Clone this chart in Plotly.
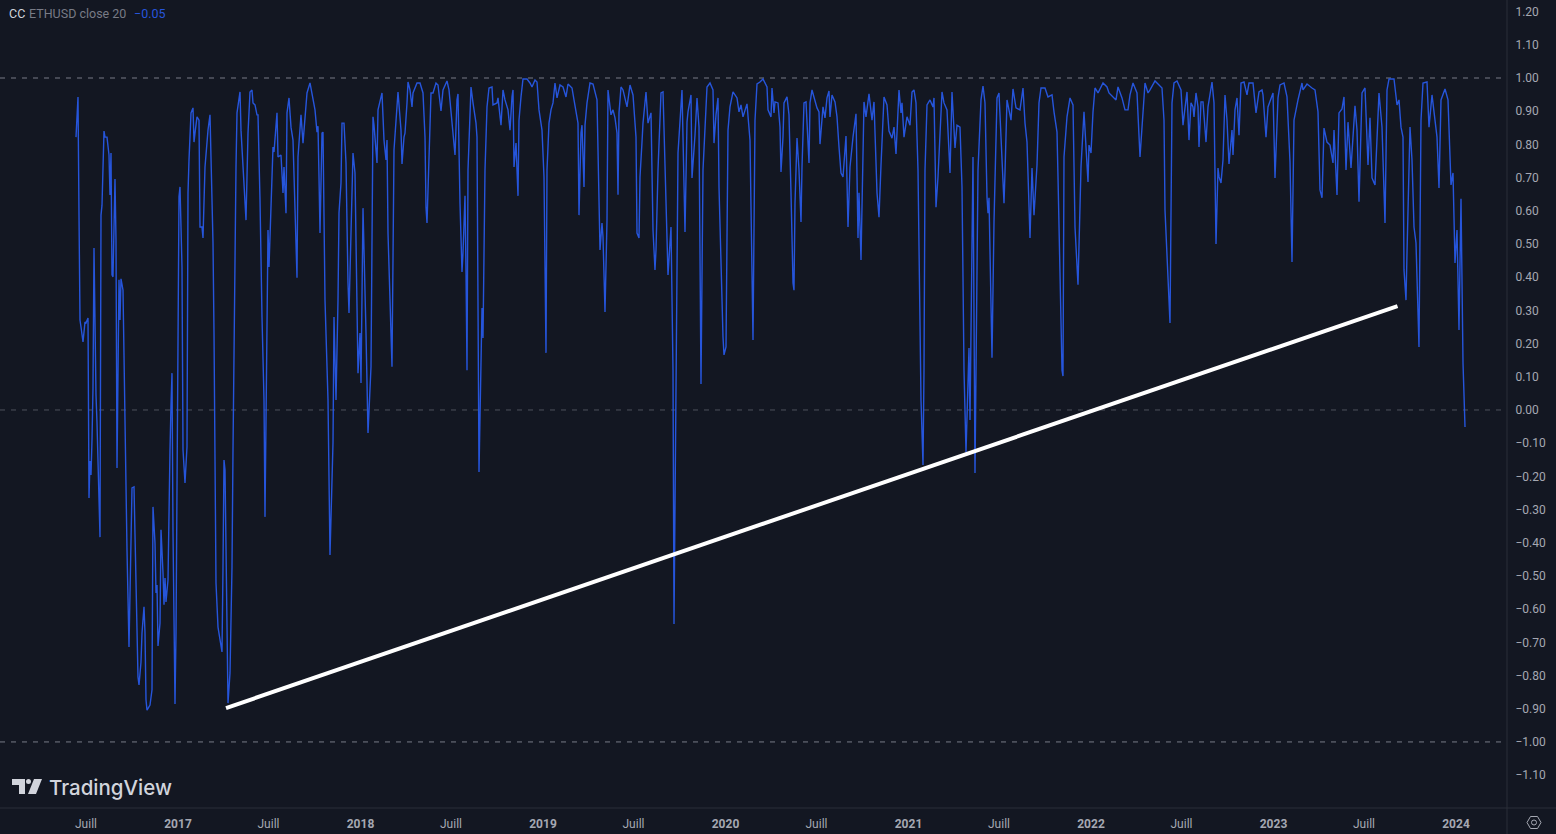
import pandas as pd
import plotly.graph_objects as go

# (days since first bar, correlation value)
first_bar = "2016-06-11"

cc_2016 = [(0,.822),(4,.943),(6,.587),(8,.271),(10,.25),(14,.205),(18,.265),(20,.262),(24,.277),(26,-.265),
    (28,-.154),(30,-.196),(32,-.09),(34,.066),(36,.488),(38,.151),(40,.045),(42,-.039),(48,-.383),(50,.587),
    (52,.617),(56,.84),(58,.822),(62,.822),(66,.768),(68,.648),(70,.774),(72,.407),(74,.401),(78,.696),
    (80,.512),(82,-.175),(84,.271),(86,.392),(88,.271),(90,.395),(94,.361),(98,-.069),(102,-.422),(106,-.714),
    (108,-.578),(112,-.235),(116,-.232),(118,-.37),(120,-.521),(122,-.744),(124,-.804),(126,-.828),(130,-.759),
    (132,-.672),(136,-.593),(138,-.672),(140,-.873),(142,-.904),(148,-.889),(152,-.843),(154,-.292),(158,-.401),
    (160,-.551),(162,-.527),(164,-.711),(168,-.642),(170,-.361),(174,-.491),(176,-.587),(178,-.506),(180,-.578),
    (184,-.512),(186,-.271),(188,-.12),(190,.015),(192,.111),(194,-.37),(198,-.886),(200,-.672),(202,-.271)]

cc_2017 = [(204,.03),(206,.642),(208,.672),(212,.431),(214,-.12),(218,-.22),(222,-.111),(224,.654),(226,.753),
    (230,.895),(234,.91),(236,.807),(238,.834),(242,.883),(246,.873),(248,.551),(252,.551),(254,.518),(258,.732),
    (262,.813),(264,.843),(268,.889),(270,.753),(274,.503),(276,.232),(278,-.28),(280,-.521),(284,-.654),(288,-.699),
    (292,-.729),(294,-.473),(296,-.151),(298,-.18),(302,-.672),(304,-.883),(308,-.792),(312,-.473),(314,-.12),
    (316,.232),(318,.461),(320,.732),(322,.895),(328,.958),(330,.843),(334,.732),(340,.572),(344,.834),(348,.958),
    (352,.964),(354,.925),(358,.919),(362,.889),(364,.889),(368,.633),(372,.28),(376,.03),(378,-.322),(380,.03),
    (382,.361),(384,.542),(386,.431),(392,.732),(394,.792),(396,.777),(402,.895),(404,.762),(410,.768),(414,.654),
    (416,.732),(420,.593),(422,.895),(426,.94),(430,.852),(434,.813),(438,.581),(442,.398),(444,.762),(448,.864),
    (450,.889),(454,.804),(458,.895),(462,.955),(468,.985),(474,.934),(478,.904),(482,.837),(484,.855),(486,.702),
    (488,.533),(492,.834),(494,.837),(498,.331),(502,.13),(504,.03),(508,-.437),(514,-.099),(516,.28),(520,.03),
    (524,.331),(526,.593),(530,.684),(532,.864),(536,.864),(540,.744),(544,.383),(546,.292),(550,.533),(554,.774),
    (558,.714),(562,.271),(564,.111),(568,.232)]

cc_2018 = [(570,.081),(574,.608),(576,.443),(580,.232),(584,-.069),(590,.13),(594,.883),(596,.858),(602,.744),
    (604,.904),(612,.955),(616,.813),(620,.753),(622,.813),(624,.533),(630,.271),(632,.13),(636,.783),(640,.864),
    (644,.958),(650,.843),(652,.741),(656,.822),(658,.834),(662,.925),(664,.988),(668,.964),(672,.913),(674,.955),
    (682,.985),(688,.985),(694,.955),(698,.822),(700,.611),(702,.563),(706,.753),(710,.955),(714,.955),(720,.985),
    (724,.979),(730,.901),(734,.964),(742,.991),(746,.964),(752,.852),(758,.768),(762,.934),(764,.952),(768,.623),
    (772,.416),(774,.473),(778,.645),(780,.422),(782,.12),(784,.723),(790,.973),(794,.925),(800,.864),(802,.822),
    (804,.422),(806,-.187),(812,.307),(814,.217),(818,.723),(822,.913),(826,.97),(832,.973),(834,.919),(842,.925),
    (844,.94),(850,.858),(854,.964),(858,.934),(864,.904),(868,.843),(872,.943),(874,.964),(876,.732),(880,.804),
    (884,.645),(886,.873),(890,.943),(894,.997),(902,.997),(908,.985),(912,.973),(918,.994),(922,.988),(926,.904),
    (932,.843)]

cc_2019 = [(936,.702),(940,.172),(942,.723),(946,.864),(950,.904),(954,.925),(958,.985),(962,.94),(968,.979),
    (974,.973),(980,.943),(984,.982),(992,.97),(996,.934),(1000,.895),(1004,.864),(1006,.587),(1010,.834),(1012,.858),
    (1016,.672),(1018,.858),(1022,.925),(1028,.985),(1034,.982),(1042,.934),(1044,.774),(1048,.482),(1052,.563),
    (1054,.521),(1058,.295),(1062,.572),(1064,.964),(1070,.889),(1074,.904),(1078,.88),(1082,.834),(1084,.648),
    (1086,.895),(1090,.973),(1094,.964),(1098,.94),(1102,.913),(1108,.979),(1114,.949),(1120,.822),(1122,.533),
    (1126,.518),(1128,.702),(1132,.807),(1134,.864),(1140,.958),(1144,.864),(1150,.895),(1154,.542),(1158,.422),
    (1160,.482),(1164,.723),(1170,.955),(1174,.958),(1178,.723),(1184,.407),(1190,.551),(1194,.12),(1196,-.645),
    (1200,.12),(1204,.774),(1212,.964),(1214,.822),(1218,.536),(1222,.867),(1224,.898),(1230,.949),(1232,.699),
    (1238,.828),(1242,.94),(1246,.852),(1250,.078),(1254,.723),(1262,.973),(1268,.985),(1274,.964),(1276,.804),
    (1280,.889),(1284,.94),(1286,.672),(1294,.22)]

cc_2020 = [(1296,.166),(1300,.19),(1304,.843),(1308,.913),(1314,.958),(1322,.94),(1326,.898),(1330,.919),(1334,.883),
    (1342,.922),(1346,.852),(1348,.813),(1354,.211),(1358,.873),(1362,.982),(1368,.988),(1374,.997),(1382,.973),
    (1384,.904),(1390,.883),(1392,.97),(1396,.895),(1398,.928),(1404,.925),(1408,.852),(1410,.717),(1414,.822),
    (1416,.925),(1422,.943),(1426,.889),(1430,.654),(1434,.383),(1436,.361),(1438,.623),(1442,.819),(1446,.723),
    (1450,.566),(1452,.732),(1456,.925),(1460,.928),(1466,.744),(1468,.925),(1472,.964),(1476,.94),(1482,.91),
    (1486,.898),(1488,.801),(1494,.913),(1498,.88),(1502,.94),(1506,.961),(1508,.883),(1512,.949),(1518,.928),
    (1522,.883),(1526,.792),(1530,.714),(1534,.702),(1540,.825),(1544,.551),(1548,.732),(1554,.822),(1560,.892),
    (1564,.518),(1566,.654),(1570,.452),(1574,.873),(1576,.928),(1580,.883),(1586,.952),(1592,.873),(1596,.928),
    (1602,.654),(1606,.581),(1610,.738),(1616,.943),(1622,.919),(1626,.84),(1632,.819),(1636,.852),(1640,.771),
    (1646,.964),(1650,.895),(1652,.925),(1656,.822),(1662,.883)]

cc_2021 = [(1668,.858),(1672,.958),(1676,.964),(1680,.925),(1684,.723),(1690,.03),(1694,-.166),(1696,.12),(1698,.723),
    (1702,.919),(1708,.934),(1714,.913),(1716,.94),(1720,.611),(1724,.702),(1732,.958),(1736,.925),(1742,.904),
    (1748,.714),(1752,.958),(1758,.789),(1762,.858),(1768,.852),(1772,.672),(1776,.12),(1780,-.127),(1786,.187),
    (1788,-.03),(1794,.762),(1798,-.19),(1804,.723),(1810,.934),(1814,.976),(1818,.925),(1822,.642),(1824,.593),
    (1826,.639),(1832,.157),(1836,.566),(1842,.94),(1846,.955),(1850,.804),(1854,.708),(1856,.623),(1858,.717),
    (1862,.934),(1870,.873),(1874,.967),(1880,.91),(1888,.904),(1894,.97),(1898,.864),(1902,.807),(1908,.518),
    (1912,.729),(1916,.587),(1922,.738),(1926,.925),(1930,.97),(1938,.97),(1944,.943),(1952,.949),(1956,.898),
    (1962,.837),(1964,.702),(1972,.12),(1974,.102),(1976,.762),(1982,.883),(1988,.94),(1994,.919),(1998,.551),
    (2004,.377),(2010,.732),(2016,.898),(2020,.783),(2024,.687),(2026,.798)]

cc_2022 = [(2030,.774),(2034,.898),(2038,.97),(2044,.955),(2054,.985),(2062,.973),(2066,.955),(2080,.934),(2084,.973),
    (2092,.94),(2098,.904),(2104,.904),(2108,.949),(2114,.985),(2122,.955),(2128,.762),(2138,.985),(2144,.955),
    (2148,.964),(2158,.991),(2172,.97),(2176,.873),(2178,.602),(2188,.262),(2192,.925),(2196,.985),(2202,.991),
    (2210,.964),(2212,.883),(2214,.858),(2218,.91),(2222,.958),(2226,.813),(2230,.925),(2234,.913),(2236,.883),
    (2240,.955),(2244,.913),(2246,.792),(2250,.928),(2254,.928),(2260,.807),(2264,.913),(2272,.988),(2276,.925),
    (2280,.5),(2284,.729),(2286,.702),(2290,.684),(2294,.753),(2298,.949),(2302,.873),(2306,.741),(2312,.843),
    (2314,.768),(2318,.904),(2322,.94),(2326,.828),(2330,.985),(2336,.988),(2342,.949),(2346,.985),(2354,.985),
    (2360,.895),(2366,.958),(2372,.964),(2374,.949),(2380,.822),(2384,.913),(2394,.955)]

cc_2023 = [(2398,.699),(2404,.94),(2408,.979),(2416,.985),(2422,.943),(2428,.747),(2432,.446),(2436,.873),(2444,.934),
    (2452,.985),(2454,.964),(2462,.982),(2472,.97),(2478,.964),(2484,.898),(2488,.663),(2492,.639),(2496,.849),
    (2502,.807),(2508,.798),(2514,.744),(2516,.843),(2522,.648),(2526,.895),(2532,.907),(2536,.943),(2540,.723),
    (2544,.867),(2550,.729),(2558,.916),(2562,.843),(2566,.627),(2572,.955),(2578,.97),(2584,.738),(2588,.88),
    (2592,.699),(2598,.678),(2606,.955),(2612,.852),(2618,.563),(2622,.964),(2626,.997),(2636,.997),(2642,.919),
    (2646,.934),(2650,.852),(2654,.822),(2656,.422),(2660,.331),(2662,.473),(2668,.852),(2672,.753),(2676,.551),
    (2680,.503),(2686,.19),(2690,.873),(2694,.985),(2702,.988),(2706,.852),(2712,.949),(2718,.867),(2722,.822),
    (2726,.669),(2730,.934),(2738,.967),(2744,.934),(2750,.678),(2754,.714),(2758,.443),(2762,.542),(2766,.241),
    (2770,.636),(2774,.142),(2778,-.051)]

trend_dates = ["2017-04-07", "2023-09-06"]
trend_values = [-.898, .313]

band_levels = [1, 0, -1]
band_colors = ["#787b86", "#4e515c", "#787b86"]

x_tick_dates = ["2016-07-01", "2017-01-01", "2017-07-01", "2018-01-01", "2018-07-01", "2019-01-01", "2019-07-01",
    "2020-01-01", "2020-07-01", "2021-01-01", "2021-07-01", "2022-01-01", "2022-07-01", "2023-01-01", "2023-07-01",
    "2024-01-01"]
x_tick_text = ["Juill", "<b>2017</b>", "Juill", "<b>2018</b>", "Juill", "<b>2019</b>", "Juill", "<b>2020</b>", "Juill",
    "<b>2021</b>", "Juill", "<b>2022</b>", "Juill", "<b>2023</b>", "Juill", "<b>2024</b>"]
y_ticks = [-1.1, -1, -.9, -.8, -.7, -.6, -.5, -.4, -.3, -.2, -.1, 0, .1, .2, .3, .4, .5, .6, .7, .8, .9, 1, 1.1, 1.2]

BG = "#131722"
LINE = "#2655db"
TEXT = "#a5a8b2"
BORDER = "#2a2e39"
FONT = "Roboto"
WIDTH, HEIGHT, PLOT_W, PLOT_H = 1556, 834, 1507, 808


def fx(px):
    return px / PLOT_W


def fy(py):
    return 1 - py / PLOT_H


def poly(points):
    return "M" + " L".join(f"{fx(a)},{fy(b)}" for a, b in points) + " Z"


rows = cc_2016 + cc_2017 + cc_2018 + cc_2019 + cc_2020 + cc_2021 + cc_2022 + cc_2023
days = [r[0] for r in rows]
values = [r[1] for r in rows]
dates = pd.Timestamp(first_bar) + pd.to_timedelta(days, unit="D")

fig = go.Figure()
fig.add_trace(go.Scatter(x=dates, y=values, mode="lines", line=dict(color=LINE, width=1.4), name="CC ETHUSD close 20"))
fig.add_trace(go.Scatter(x=trend_dates, y=trend_values, mode="lines", line=dict(color="#ffffff", width=4), name="trend"))

for level, color in zip(band_levels, band_colors):
    fig.add_shape(type="line", xref="paper", x0=0, x1=1, yref="y", y0=level, y1=level,
                  line=dict(color=color, width=1, dash="5px,6px"), layer="below")

# frame lines of the price and time scales
fig.add_shape(type="line", xref="paper", yref="paper", x0=1, x1=1, y0=fy(834), y1=1, line=dict(color=BORDER, width=1))
fig.add_shape(type="line", xref="paper", yref="paper", x0=0, x1=fx(1556), y0=0, y1=0, line=dict(color=BORDER, width=1))

# TradingView mark
logo = "#d1d4dc"
for pts in ([(12, 779), (25, 779), (25, 794), (19, 794), (19, 785), (12, 785)],
            [(34, 779), (42, 779), (36, 794), (28, 794)]):
    fig.add_shape(type="path", xref="paper", yref="paper", path=poly(pts), fillcolor=logo, line=dict(width=0))
fig.add_shape(type="circle", xref="paper", yref="paper", x0=fx(26), x1=fx(31), y0=fy(784), y1=fy(779),
              fillcolor=logo, line=dict(width=0))

# settings button
fig.add_shape(type="path", xref="paper", yref="paper",
              path=poly([(1527, 822.5), (1530.5, 816.5), (1537.5, 816.5), (1541, 822.5), (1537.5, 828.5), (1530.5, 828.5)]),
              line=dict(color=TEXT, width=1))
fig.add_shape(type="circle", xref="paper", yref="paper", x0=fx(1531.5), x1=fx(1536.5), y0=fy(825), y1=fy(820),
              line=dict(color=TEXT, width=1))


def label(px, py, text, color, size=12, **kw):
    fig.add_annotation(xref="paper", yref="paper", x=fx(px), y=fy(py), text=text, showarrow=False,
                       xanchor="left", yanchor="middle", xshift=-2,
                       font=dict(family=kw.pop("family", FONT), size=size, color=color, **kw))


label(9, 13, "CC", "#d1d4dc", 12.5)
label(29, 13, "ETHUSD close 20", "#787b86", 12.5)
label(134, 13, "−0.05", LINE, 12.5)
label(49, 787, "TradingView", logo, 20.5, family="Inter", weight=500)

fig.update_layout(
    width=WIDTH, height=HEIGHT,
    margin=dict(l=0, r=WIDTH - PLOT_W, t=0, b=HEIGHT - PLOT_H, pad=0),
    paper_bgcolor=BG, plot_bgcolor=BG,
    showlegend=False,
    font=dict(family=FONT, size=12, color=TEXT),
    xaxis=dict(range=["2016-01-11", "2024-04-12"], tickmode="array", tickvals=x_tick_dates, ticktext=x_tick_text,
               showgrid=False, zeroline=False, showline=False, ticks="outside", ticklen=5, tickcolor="rgba(0,0,0,0)",
               tickfont=dict(size=12, color=TEXT)),
    yaxis=dict(side="right", range=[-1.199, 1.235], tickmode="array", tickvals=y_ticks, tickformat=".2f",
               showgrid=False, zeroline=False, showline=False, ticks="outside", ticklen=5, tickcolor="rgba(0,0,0,0)",
               tickfont=dict(size=12, color=TEXT)),
)

fig.write_html("out.html", config={"displayModeBar": False},
               post_script="document.body.style.margin='0';document.body.style.background='#131722';")
